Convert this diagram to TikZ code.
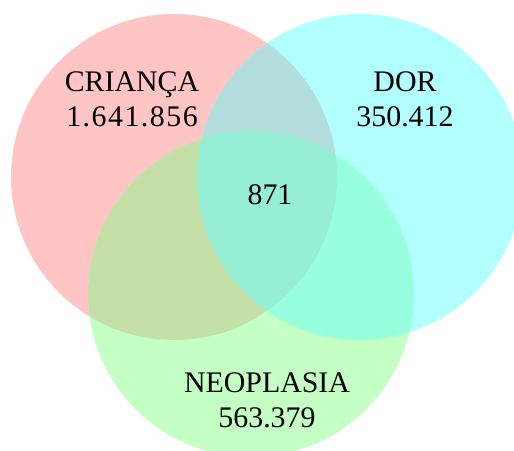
\documentclass[tikz,border=0pt]{standalone}
\usepackage{fontspec}
\setmainfont{Liberation Serif}
\usepackage{tikz}

\definecolor{setred}{RGB}{255,196,196}
\definecolor{setcyan}{RGB}{178,255,255}
\definecolor{setgreen}{RGB}{196,255,196}
\definecolor{redcyan}{RGB}{180,222,222}
\definecolor{redgreen}{RGB}{196,224,168}
\definecolor{cyangreen}{RGB}{152,255,222}
\definecolor{allsets}{RGB}{150,238,212}

\tikzset{
  vennlabel/.style={align=center, font=\fontsize{17}{20}\selectfont}
}

\begin{document}
\begin{tikzpicture}
\useasboundingbox (0,0) rectangle (10.28,9);
\coordinate (crianca) at (3.48,5.46);
\coordinate (dor) at (7.20,5.46);
\coordinate (neoplasia) at (5.02,3.12);
\begin{scope}
\clip (0,0) rectangle (10.28,9);
% draws sets
\fill[setred] (crianca) circle (3.26);
\fill[setcyan] (dor) circle (3.26);
\fill[setgreen] (neoplasia) circle (3.26);
% draws overlaps
\begin{scope}
\clip (crianca) circle (3.26);
\fill[redcyan] (dor) circle (3.26);
\fill[redgreen] (neoplasia) circle (3.26);
\end{scope}
\begin{scope}
\clip (dor) circle (3.26);
\fill[cyangreen] (neoplasia) circle (3.26);
\clip (crianca) circle (3.26);
\fill[allsets] (neoplasia) circle (3.26);
\end{scope}
\end{scope}
% labels sets
\node[vennlabel] (lcrianca) at (2.64,7.02) {CRIANÇA\\{\addfontfeatures{LetterSpace=5}1.641.856}};
\node[vennlabel] (ldor) at (8.10,7.02) {DOR\\350.412};
\node[vennlabel] (lneoplasia) at (5.34,1.00) {NEOPLASIA\\563.379};
\node[vennlabel] (lall) at (5.40,5.10) {871};
\end{tikzpicture}
\end{document}
